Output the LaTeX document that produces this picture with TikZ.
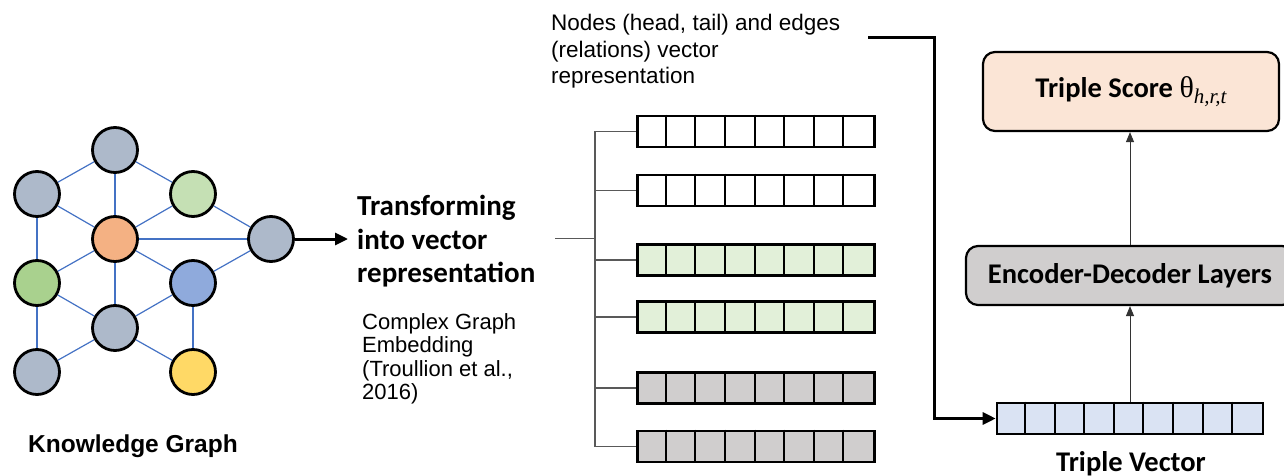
\documentclass[tikz,border=0pt]{standalone}
\usepackage{fontspec}
\setmainfont{Liberation Sans}
\newfontfamily\calfont{Carlito}
\newfontfamily\serfont{Liberation Serif}
\usetikzlibrary{arrows.meta,backgrounds}

\definecolor{kgGray}{HTML}{ADB9CA}
\definecolor{kgOrange}{HTML}{F4B183}
\definecolor{kgLightGreen}{HTML}{C5E0B4}
\definecolor{kgGreen}{HTML}{A9D18E}
\definecolor{kgBlue}{HTML}{8FAADC}
\definecolor{kgYellow}{HTML}{FFD966}
\definecolor{kgEdge}{HTML}{4472C4}
\definecolor{vecGreen}{HTML}{E2F0D9}
\definecolor{vecGray}{HTML}{D0CECE}
\definecolor{vecBlue}{HTML}{DAE3F3}
\definecolor{scoreFill}{HTML}{FBE5D6}
\definecolor{layerFill}{HTML}{D0CECE}
\definecolor{bracketGray}{HTML}{595959}

\tikzset{
  kgnode/.style={circle, draw=black, line width=2.8pt, minimum size=45pt, inner sep=0pt},
  kgedge/.style={draw=kgEdge, line width=1.2pt},
  vecbox/.style={draw=black, line width=2.6pt, minimum width=237pt, minimum height=31pt, inner sep=0pt, anchor=west},
  cellline/.style={draw=black, line width=2pt},
  branch/.style={draw=bracketGray, line width=1.6pt},
  bigarrow/.style={draw=black, line width=3pt, -{Triangle[length=13pt,width=12pt]}},
  thinarrow/.style={draw=black!80, line width=1pt, -{Triangle[length=10pt,width=8pt]}},
  layerbox/.style={draw=black, line width=2.2pt, rounded corners=12pt, inner sep=0pt},
  boldcal/.style={font=\calfont\bfseries\fontsize{28.5}{33.5}\selectfont},
  plainlabel/.style={align=left, inner sep=0pt, anchor=north west}
}

\begin{document}
\begin{tikzpicture}[x=1pt, y=-1pt]
\useasboundingbox (0,0) rectangle (1284,476);
\clip (0,0) rectangle (1284,476);

% ---------- knowledge graph ----------
\node[kgnode, fill=kgGray]       (top)  at (115,150) {};
\node[kgnode, fill=kgGray]       (ul)   at (37,194)  {};
\node[kgnode, fill=kgLightGreen] (ur)   at (193,194) {};
\node[kgnode, fill=kgOrange]     (mid)  at (115,239) {};
\node[kgnode, fill=kgGray]       (rt)   at (271,239) {};
\node[kgnode, fill=kgGreen]      (lg)   at (37,283)  {};
\node[kgnode, fill=kgBlue]       (bl)   at (193,283) {};
\node[kgnode, fill=kgGray]       (bc)   at (115,328) {};
\node[kgnode, fill=kgGray]       (ll)   at (37,372)  {};
\node[kgnode, fill=kgYellow]     (yl)   at (193,372) {};

\begin{pgfonlayer}{background}
\foreach \a/\b in {top/ul, top/ur, top/mid, ul/mid, ul/lg, ur/mid, ur/rt,
                   mid/rt, mid/lg, mid/bl, mid/bc, bl/rt, bl/bc, bl/yl,
                   lg/bc, lg/ll, bc/ll, bc/yl}
  \draw[kgedge] (\a) -- (\b);
\end{pgfonlayer}

\node[font=\bfseries\fontsize{24.5}{28}\selectfont, anchor=base, inner sep=0pt]
  (kglabel) at (133,452) {Knowledge Graph};

% arrow into the transformation step
\coordinate (tin) at (348,239);
\draw[bigarrow] (rt.east) -- (tin);

\node[plainlabel, font=\calfont\bfseries\fontsize{29}{33.5}\selectfont] (trans) at (357,195)
  {Transforming\\into vector\\representation};
\node[plainlabel, font=\fontsize{22}{23.5}\selectfont] (embed) at (362,313)
  {Complex Graph\\Embedding\\(Troullion et al.,\\2016)};

% ---------- embedding vectors ----------
\node[vecbox, fill=white]    (v1) at (636,131.5) {};
\node[vecbox, fill=white]    (v2) at (636,190.5) {};
\node[vecbox, fill=vecGreen] (v3) at (636,260)   {};
\node[vecbox, fill=vecGreen] (v4) at (636,317)   {};
\node[vecbox, fill=vecGray]  (v5) at (636,388)   {};
\node[vecbox, fill=vecGray]  (v6) at (636,446.5) {};
\foreach \v in {v1,v2,v3,v4,v5,v6}
  \foreach \i in {1,...,7}
    \draw[cellline] ([xshift=\i*29.625pt]\v.north west) -- ([xshift=\i*29.625pt]\v.south west);

% bracket feeding the vectors
\coordinate (bin) at (555,238.5);
\coordinate (spine) at (595,238.5);
\draw[branch] (bin) -- (spine);
\draw[branch] (v1.west) -| (spine) |- (v6.west);
\foreach \v in {v2,v3,v4,v5}
  \draw[branch] (spine |- \v.west) -- (\v.west);

\node[plainlabel, font=\fontsize{22.5}{26.5}\selectfont] (nodesrep) at (551,14)
  {Nodes (head, tail) and edges\\(relations) vector\\representation};

% ---------- triple scoring ----------
\node[draw=black, line width=2.6pt, fill=vecBlue, minimum width=266pt, minimum height=31pt, inner sep=0pt]
  (tv) at (1130,418.5) {};
\foreach \i in {1,...,8}
  \draw[cellline] ([xshift=\i*29.556pt]tv.north west) -- ([xshift=\i*29.556pt]tv.south west);
\node[boldcal, anchor=base, inner sep=0pt] (tvlabel) at (1131,471) {Triple Vector};

\node[layerbox, fill=layerFill, minimum width=328pt, minimum height=59pt, boldcal]
  (enc) at (1130,275.5) {Encoder-Decoder Layers};
\node[layerbox, fill=scoreFill, minimum width=296pt, minimum height=79pt, boldcal]
  (score) at (1131,91.5) {Triple Score {\serfont\mdseries\fontsize{30}{30}\selectfont θ}\raisebox{-6pt}{\serfont\itshape\mdseries\fontsize{21}{21}\selectfont h,r,t}};

\draw[thinarrow] (tv.north -| enc.south) -- (enc.south);
\draw[thinarrow] (enc.north) -- (enc.north |- score.south);

% link from the representation text to the triple vector
\coordinate (lstart) at (868,38);
\draw[bigarrow] (lstart) -- (934,38) |- (tv.west);
\end{tikzpicture}
\end{document}
